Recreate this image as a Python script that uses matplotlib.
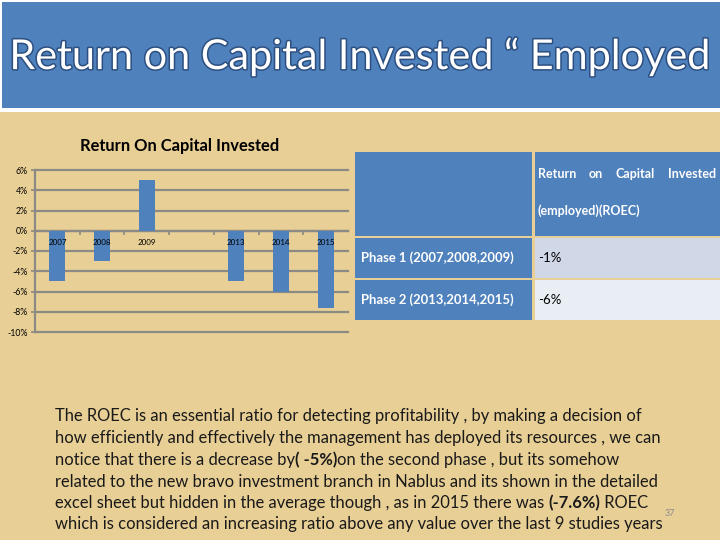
import matplotlib
matplotlib.use('Agg')
import matplotlib.pyplot as plt
from matplotlib.patches import Rectangle
import matplotlib.patheffects as pe

# ---------------- data ----------------
slide_title = "Return on Capital Invested \u201c Employed"
chart_title = "Return On Capital Invested"
years = ["2007", "2008", "2009", "", "2013", "2014", "2015"]
roec = [-5.0, -3.0, 5.0, None, -5.0, -6.0, -7.6]
y_ticks = [6, 4, 2, 0, -2, -4, -6, -8, -10]
table_header = ["Return on Capital Invested", "(employed)(ROEC)"]
phases = ["Phase 1 (2007,2008,2009)", "Phase 2 (2013,2014,2015)"]
phase_roec = ["-1%", "-6%"]
paragraph = [
    [("The ROEC is an essential ratio for detecting profitability , by making a decision of", False)],
    [("how efficiently and effectively the management has deployed its resources , we can", False)],
    [("notice that there is a decrease by", False), ("( -5%)", True), ("on the second phase , but its somehow", False)],
    [("related to the new bravo investment branch in Nablus and its shown in the detailed", False)],
    [("excel sheet but hidden in the average though , as in 2015 there was ", False), ("(-7.6%)", True), (" ROEC", False)],
    [("which is considered an increasing ratio above any value over the last 9 studies years", False)],
]
page_number = "37"

# ---------------- styling ----------------
W, H = 720, 540
BLUE = "#4f81bd"
PARCH = "#e8cf95"
GRID = "#8c8a84"
FONT = "Lato"

def fx(x):
    return x / W

def fy(y):
    return 1 - y / H

fig = plt.figure(figsize=(7.2, 5.4), dpi=100)
fig.patch.set_facecolor("white")

# overlay axes covering the whole figure, for slide decorations
ov = fig.add_axes([0, 0, 1, 1], zorder=-5)
ov.set_xlim(0, W)
ov.set_ylim(H, 0)
ov.axis("off")

def rect(x0, y0, x1, y1, color, z=0):
    ov.add_patch(Rectangle((x0, y0), x1 - x0, y1 - y0, facecolor=color,
                           edgecolor="none", zorder=z))

rect(0, 112, W, H, PARCH, z=0)
rect(2, 2, W, 108, BLUE, z=0)

t = ov.text(360, 57, slide_title, ha="center", va="center", color="white",
            fontsize=30, family=FONT,
            path_effects=[pe.withStroke(linewidth=2.2, foreground="#2c4f80")])
fig.canvas.draw()
ext = t.get_window_extent()
t.set_fontsize(30 * 700 / ext.width)

# ---------------- chart ----------------
ax = fig.add_axes([fx(35), fy(332), fx(313), 162 / H], zorder=2)
ax.set_facecolor("none")
xs = list(range(len(years)))
bx = [x for x, v in zip(xs, roec) if v is not None]
bv = [v for v in roec if v is not None]
ax.bar(bx, bv, width=0.36, color=BLUE, zorder=3)
ax.set_xlim(-0.5, len(years) - 0.5)
ax.set_ylim(min(y_ticks), max(y_ticks))
ax.set_yticks(y_ticks)
ax.set_yticklabels([f"{v}%" for v in y_ticks], fontsize=6.3, family=FONT)
for v in y_ticks:
    ax.axhline(v, color=GRID, lw=1.6, zorder=1, clip_on=False)
for s in ["top", "right"]:
    ax.spines[s].set_visible(False)
ax.spines["left"].set_color(GRID)
ax.spines["left"].set_linewidth(1.6)
ax.spines["bottom"].set_position(("data", 0))
ax.spines["bottom"].set_color(GRID)
ax.spines["bottom"].set_linewidth(1.6)
ax.set_xticks([x + 0.5 for x in xs[:-1]])
ax.set_xticklabels([])
ax.tick_params(axis="x", length=3, color=GRID, width=1.2)
ax.tick_params(axis="y", length=3, color=GRID, width=1.2, pad=2)
for x, lab in zip(xs, years):
    if lab:
        ax.text(x, -1.2, lab, ha="center", va="center", fontsize=5.8, family=FONT, zorder=4)

ov.text(180, 146, chart_title, ha="center", va="center", fontsize=11.9,
        fontweight="bold", family=FONT, color="black")

# ---------------- table ----------------
rect(355, 152, 532, 236, BLUE, z=1)
rect(535, 152, 720, 236, BLUE, z=1)
row_tops = [238, 280]
row_bots = [278, 320]
val_colors = ["#d0d8e8", "#e9edf4"]
for i, (ph, val) in enumerate(zip(phases, phase_roec)):
    rect(355, row_tops[i], 532, row_bots[i], BLUE, z=1)
    rect(535, row_tops[i], 720, row_bots[i], val_colors[i], z=1)
    yc = (row_tops[i] + row_bots[i]) / 2
    ov.text(361, yc, ph, ha="left", va="center", color="white",
            fontsize=9.4, fontweight="bold", family=FONT, zorder=2)
    ov.text(538, yc, val, ha="left", va="center", color="black",
            fontsize=9.5, family=FONT, zorder=2)

# header: first line justified across the cell, second line left-aligned
renderer = fig.canvas.get_renderer()
words = table_header[0].split()
wtexts = [ov.text(0, 174, w, ha="left", va="center", color="white", fontsize=9,
                  fontweight="bold", family=FONT, zorder=2) for w in words]
widths = [wt.get_window_extent(renderer).width for wt in wtexts]
x0, x1 = 538, 716
gap = (x1 - x0 - sum(widths)) / (len(words) - 1)
cur = x0
for wt, wd in zip(wtexts, widths):
    wt.set_x(cur)
    cur += wd + gap
ov.text(538, 211, table_header[1], ha="left", va="center", color="white",
        fontsize=9, fontweight="bold", family=FONT, zorder=2)

# ---------------- paragraph ----------------
line_y = [416, 438, 460, 482, 503, 524]
for segs, yy in zip(paragraph, line_y):
    prev = None
    for txt, bold in segs:
        kw = dict(fontsize=11.9, family=FONT, color="#1a1a1a",
                  fontweight="bold" if bold else "normal", zorder=2)
        if prev is None:
            prev = ov.text(55, yy, txt, ha="left", va="center", **kw)
        else:
            prev = ov.annotate(txt, xy=(1, 0), xycoords=prev, ha="left",
                               va="bottom", **kw)

ov.text(670, 513, page_number, ha="center", va="center", fontsize=6.5,
        family=FONT, color="#8c8c8c", zorder=2)

fig.savefig("out.png", dpi=100)
